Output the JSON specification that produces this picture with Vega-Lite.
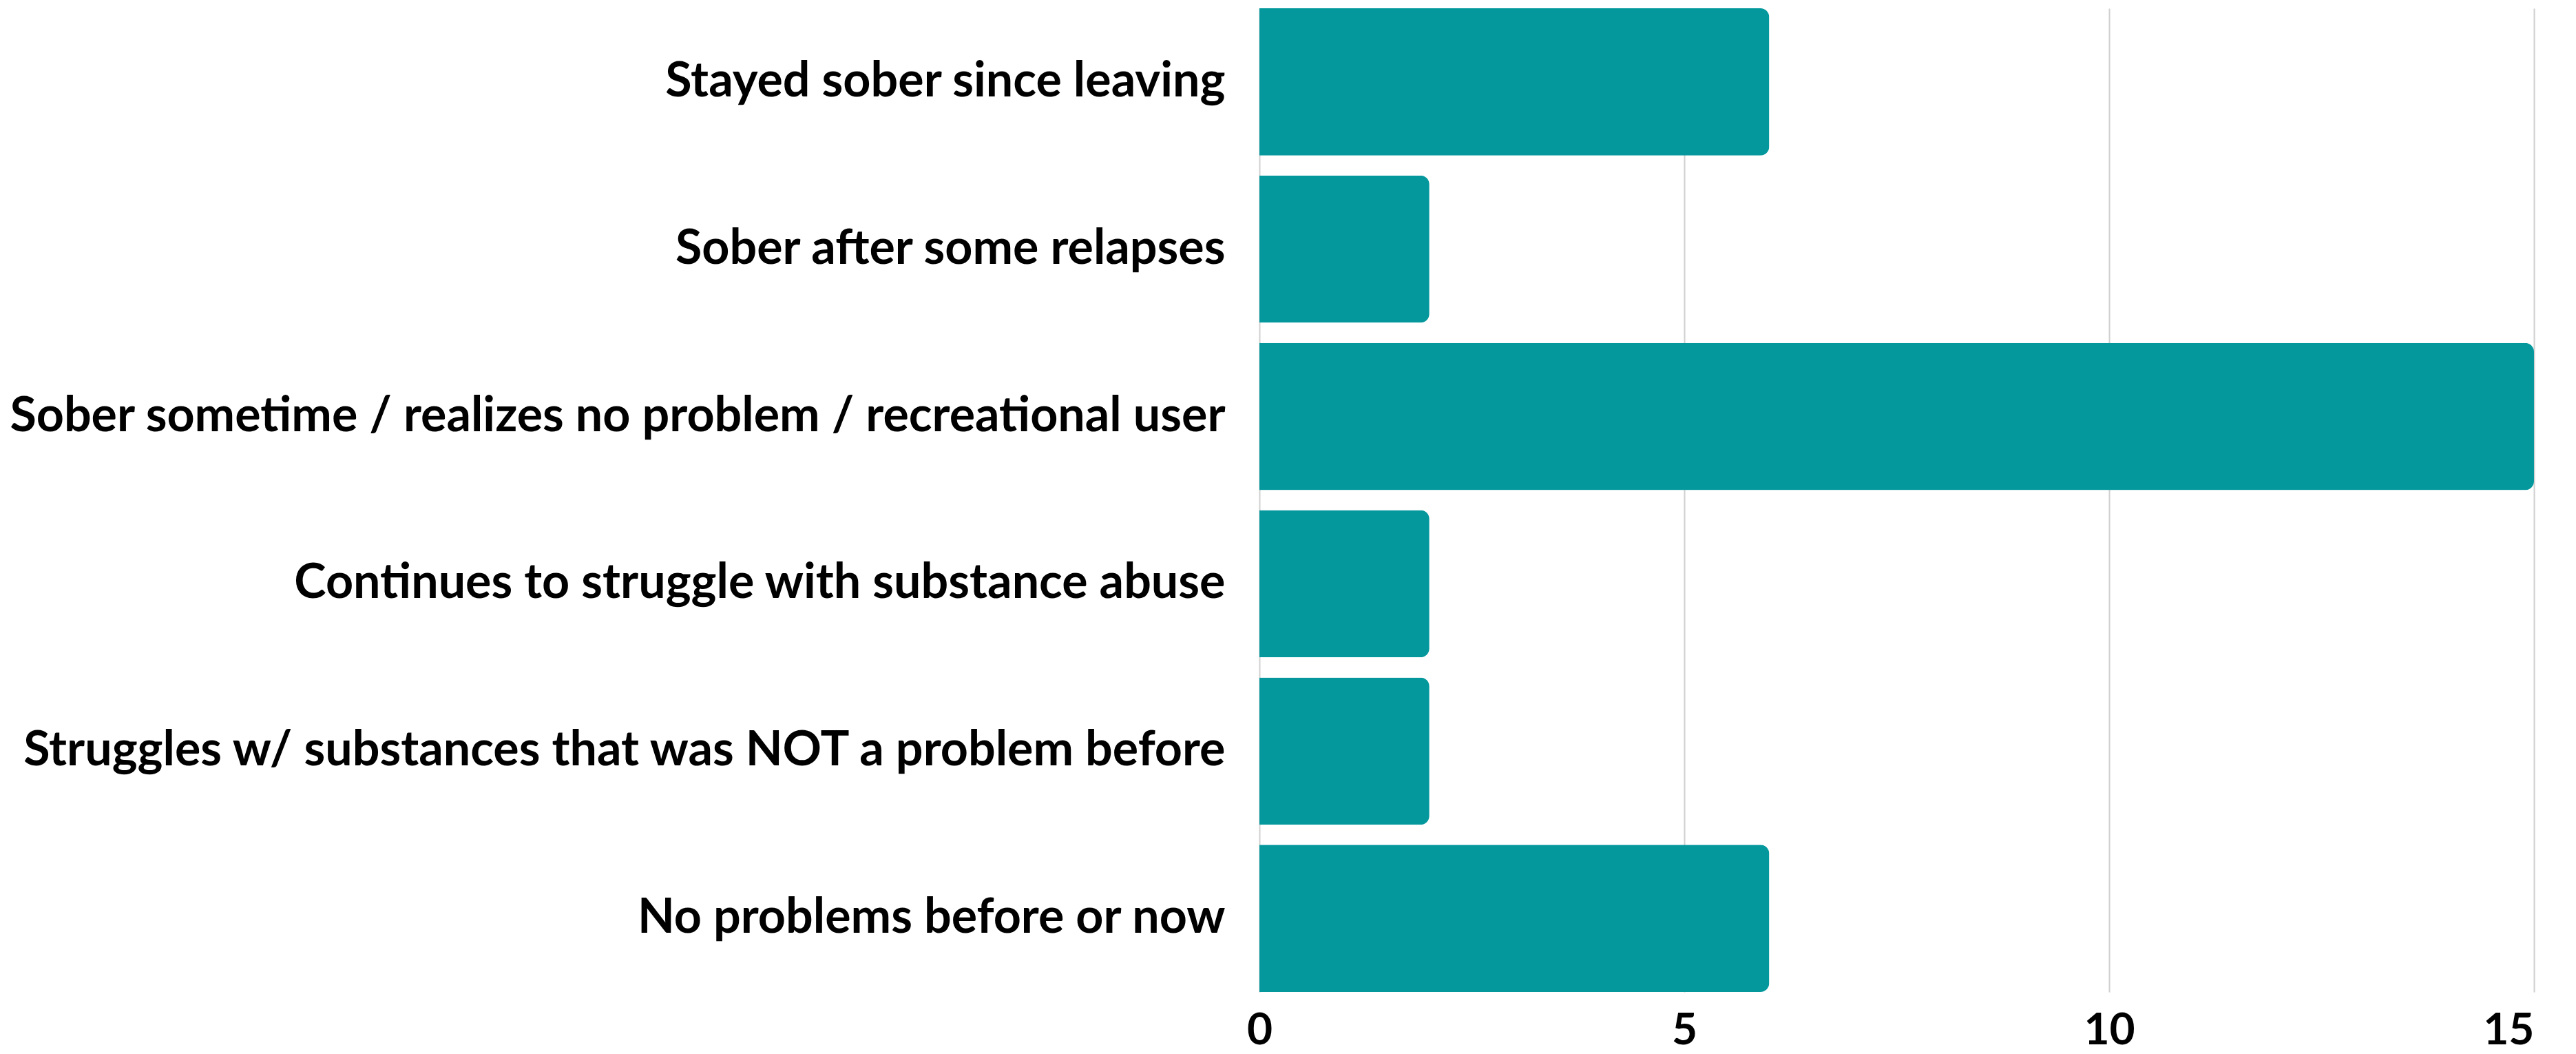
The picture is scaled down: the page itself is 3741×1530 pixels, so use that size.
{
  "$schema": "https://vega.github.io/schema/vega-lite/v6.json",
  "autosize": "none",
  "width": 1851,
  "height": 1428,
  "padding": {"left": 1829, "top": 12, "right": 61, "bottom": 90},
  "background": "white",
  "data": {
    "values": [
      {"category": "Stayed sober since leaving", "count": 6},
      {"category": "Sober after some relapses", "count": 2},
      {"category": "Sober sometime / realizes no problem / recreational user", "count": 15},
      {"category": "Continues to struggle with substance abuse", "count": 2},
      {"category": "Struggles w/ substances that was NOT a problem before", "count": 2},
      {"category": "No problems before or now", "count": 6}
    ]
  },
  "mark": {"type": "bar", "color": "#04989d", "cornerRadiusEnd": 13},
  "encoding": {
    "y": {
      "field": "category",
      "type": "nominal",
      "sort": null,
      "scale": {"paddingInner": 0.12, "paddingOuter": 0},
      "axis": {
        "title": null,
        "domain": false,
        "ticks": false,
        "labelFont": "Lato",
        "labelFontWeight": "bold",
        "labelFontSize": 70,
        "labelColor": "#000000",
        "labelPadding": 50,
        "labelLimit": 0
      }
    },
    "x": {
      "field": "count",
      "type": "quantitative",
      "scale": {"domain": [0, 15], "nice": false},
      "axis": {
        "title": null,
        "values": [0, 5, 10, 15],
        "domain": false,
        "ticks": false,
        "grid": true,
        "gridColor": "#d0d0d0",
        "gridWidth": 2,
        "labelFlush": false,
        "labelAlign": {"expr": "datum.value == 15 ? 'right' : 'center'"},
        "labelFont": "Lato",
        "labelFontWeight": "bold",
        "labelFontSize": 64,
        "labelColor": "#000000",
        "labelPadding": 24
      }
    }
  },
  "config": {"view": {"stroke": null}}
}
